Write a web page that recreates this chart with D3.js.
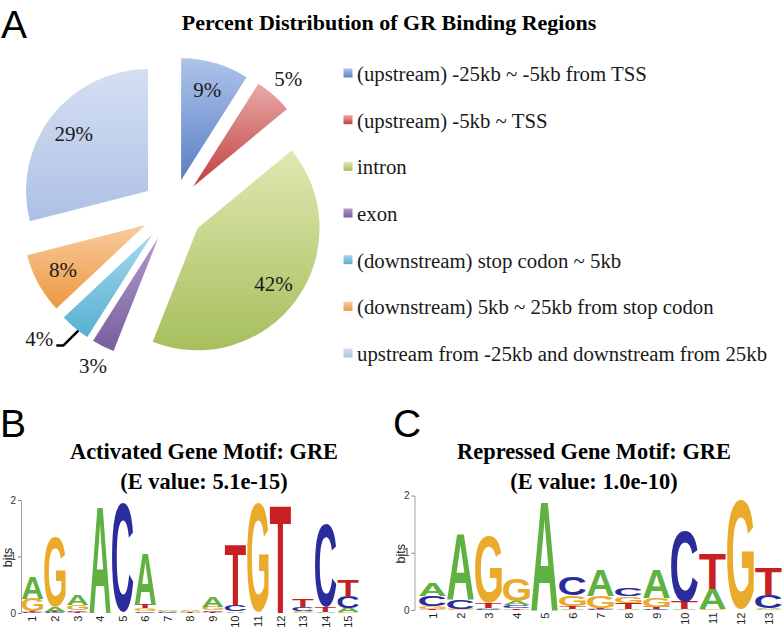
<!DOCTYPE html>
<html><head><meta charset="utf-8">
<script src="https://cdn.jsdelivr.net/npm/d3@7"></script>
<style>body{margin:0;background:#fff} svg{display:block}</style>
</head><body>
<svg id="chart" width="784" height="630"></svg>
<script>
// ---------------- DATA ----------------
const pieTitle = "Percent Distribution of GR Binding Regions";
const pieCategories = [
  "(upstream) -25kb ~ -5kb from TSS",
  "(upstream) -5kb ~ TSS",
  "intron",
  "exon",
  "(downstream) stop codon ~ 5kb",
  "(downstream) 5kb ~ 25kb from stop codon",
  "upstream from -25kb and downstream from 25kb"
];
const pieValues = [9, 5, 42, 3, 4, 8, 29];
const pieLabels = ["9%", "5%", "42%", "3%", "4%", "8%", "29%"];

const bitTicks = [0, 1, 2];
const logoLetters = ["A", "C", "G", "T"];

// Panel B: activated gene motif (bits per letter per position)
const activatedTitle = ["Activated Gene Motif: GRE", "(E value: 5.1e-15)"];
const activatedPositions = ["1","2","3","4","5","6","7","8","9","10","11","12","13","14","15"];
const activatedA = [0.40, 0.09, 0.17, 1.88, 0,    0.91, 0.015, 0.025, 0.18, 0.03, 0,    0,    0.03, 0.01, 0.08];
const activatedC = [0.01, 0.01, 0.03, 0,    1.94, 0.03, 0.012, 0.008, 0.03, 0.12, 0,    0,    0.07, 1.48, 0.20];
const activatedG = [0.22, 1.24, 0.10, 0,    0,    0.05, 0.02,  0.02,  0.06, 0,    1.93, 0,    0.01, 0,    0.01];
const activatedT = [0.02, 0.01, 0.02, 0,    0,    0.07, 0.008, 0.015, 0.02, 1.07, 0,    1.91, 0.13, 0.10, 0.29];

// Panel C: repressed gene motif
const repressedTitle = ["Repressed Gene Motif: GRE", "(E value: 1.0e-10)"];
const repressedPositions = ["1","2","3","4","5","6","7","8","9","10","11","12","13"];
const repressedA = [0.22, 1.16, 0.03, 0.07, 1.90, 0.01, 0.45, 0.01, 0.50, 0.01, 0.35, 0,    0.03];
const repressedC = [0.19, 0.16, 0.01, 0.05, 0,    0.31, 0.01, 0.13, 0.01, 1.24, 0,    0,    0.23];
const repressedG = [0.05, 0.01, 1.17, 0.39, 0,    0.19, 0.20, 0.12, 0.16, 0,    0.01, 1.92, 0.01];
const repressedT = [0.01, 0.01, 0.08, 0.03, 0,    0.05, 0.03, 0.11, 0.04, 0.13, 0.61, 0,    0.48];

// ---------------- STYLE ----------------
const sliceTop    = ["#aec4e9", "#eaa9a8", "#e0e8b2", "#ae9bcc", "#a5d9ec", "#f8cb9f", "#d5dff2"];
const sliceBottom = ["#5a7fc6", "#bd403d", "#a6bf5c", "#7a5d9f", "#56b0d2", "#ed9841", "#adc0e5"];
const letterColor = {A: "#5fb141", C: "#2b2c9c", G: "#eaaa2c", T: "#c81f22"};
const serif = '"Liberation Serif", "Times New Roman", serif';
const sans = '"Liberation Sans", Arial, sans-serif';

const svg = d3.select("#chart");
svg.append("rect").attr("width", 784).attr("height", 630).attr("fill", "#fff");
const defs = svg.append("defs");

// Panel letters
[["A", 1, 38], ["B", 0, 437], ["C", 393, 437]].forEach(([t, x, y]) => {
  svg.append("text").attr("x", x).attr("y", y).attr("font-family", sans)
    .attr("font-size", 39).attr("fill", "#000").text(t);
});

// ---------------- PIE ----------------
svg.append("text").attr("x", 389).attr("y", 30).attr("text-anchor", "middle")
  .attr("font-family", serif).attr("font-weight", "bold").attr("font-size", 22)
  .attr("fill", "#000").text(pieTitle);

pieValues.forEach((v, i) => {
  const gr = defs.append("linearGradient").attr("id", "sg" + i)
    .attr("x1", 0).attr("y1", 0).attr("x2", 0).attr("y2", 1);
  gr.append("stop").attr("offset", "0%").attr("stop-color", sliceTop[i]);
  gr.append("stop").attr("offset", "100%").attr("stop-color", sliceBottom[i]);
});

const PC = [172.5, 210], R = 122, EXPLODE = 31;
const pieArcs = d3.pie().sort(null).value(d => d)(pieValues);
const arcGen = d3.arc().innerRadius(0).outerRadius(R);
const pieG = svg.append("g").attr("transform", `translate(${PC[0]},${PC[1]})`);
const dir = a => [Math.sin(a), -Math.cos(a)];

pieArcs.forEach((d, i) => {
  const mid = (d.startAngle + d.endAngle) / 2;
  const [ux, uy] = dir(mid);
  const tx = ux * EXPLODE, ty = uy * EXPLODE;
  pieG.append("path").attr("d", arcGen(d))
    .attr("transform", `translate(${tx},${ty})`)
    .attr("fill", `url(#sg${i})`);
  const fs = 21;
  if (d.value >= 8) {
    const lr = 0.77 * R;
    pieG.append("text").attr("x", tx + ux * lr).attr("y", ty + uy * lr + fs * 0.34)
      .attr("text-anchor", "middle").attr("font-family", serif).attr("font-size", fs)
      .attr("fill", "#1a1a1a").text(pieLabels[i]);
  } else if (i === 4) {
    // label with leader line
    const [sx, sy] = dir(mid - 0.035);
    const p0 = [tx + sx * R, ty + sy * R];
    const p1 = [p0[0] - 15, p0[1] + 15];
    const p2 = [p1[0] - 7, p1[1]];
    pieG.append("path").attr("d", d3.line()([p0, p1, p2]))
      .attr("fill", "none").attr("stroke", "#000").attr("stroke-width", 2.6);
    pieG.append("text").attr("x", p2[0] - 3).attr("y", p2[1] + 0.5)
      .attr("text-anchor", "end").attr("font-family", serif).attr("font-size", fs)
      .attr("fill", "#1a1a1a").text(pieLabels[i]);
  } else {
    const lr = 1.18 * R;
    pieG.append("text").attr("x", tx + ux * lr).attr("y", ty + uy * lr + fs * 0.34)
      .attr("text-anchor", "middle").attr("font-family", serif).attr("font-size", fs)
      .attr("fill", "#1a1a1a").text(pieLabels[i]);
  }
});

// Legend
const legG = svg.append("g");
pieCategories.forEach((c, i) => {
  const y0 = 68.5 + i * 46.67;
  legG.append("rect").attr("x", 343.5).attr("y", y0).attr("width", 9).attr("height", 9)
    .attr("fill", `url(#sg${i})`);
  legG.append("text").attr("x", 357).attr("y", y0 + 12.5).attr("font-family", serif)
    .attr("font-size", 20.8).attr("fill", "#1a1a1a").text(c);
});

// ---------------- LOGOS ----------------
const LF = 100;
const mctx = document.createElement("canvas").getContext("2d");
mctx.font = `bold ${LF}px "Liberation Sans"`;
const inkCache = {};
function ink(ch) {
  if (!inkCache[ch]) {
    const m = mctx.measureText(ch);
    inkCache[ch] = {l: m.actualBoundingBoxLeft, r: m.actualBoundingBoxRight,
                    a: m.actualBoundingBoxAscent, d: m.actualBoundingBoxDescent};
  }
  return inkCache[ch];
}
function drawLetter(g, ch, x0, y0, w, h) {
  if (h <= 0) return;
  const b = ink(ch);
  const sx = w / (b.l + b.r), sy = h / (b.a + b.d);
  g.append("text")
    .attr("transform", `translate(${x0 + b.l * sx},${y0 + b.a * sy}) scale(${sx},${sy})`)
    .attr("font-family", sans).attr("font-weight", "bold").attr("font-size", LF)
    .attr("fill", letterColor[ch]).text(ch);
}

function drawLogo(cfg) {
  const g = svg.append("g");
  // titles
  cfg.title.forEach((t, k) => {
    g.append("text").attr("x", cfg.titleX).attr("y", 459 + k * 29.5).attr("text-anchor", "middle")
      .attr("font-family", serif).attr("font-weight", "bold").attr("font-size", 22.4)
      .attr("fill", "#000").text(t);
  });
  const x = d3.scaleBand().domain(cfg.positions)
    .range([cfg.x0, cfg.x0 + cfg.colW * cfg.positions.length]);
  const y = d3.scaleLinear().domain([0, 2]).range([cfg.yBase, cfg.yTop]);
  // axis
  const ax = g.append("g").attr("transform", `translate(${cfg.axisX},0)`)
    .call(d3.axisLeft(y).tickValues(bitTicks).tickSize(3).tickSizeOuter(0).tickPadding(2)
      .tickFormat(d3.format("d")));
  ax.select(".domain").attr("stroke", "#8a8a8a").attr("stroke-width", 0.8);
  ax.selectAll(".tick line").attr("stroke", "#555").attr("stroke-width", 0.8);
  ax.selectAll(".tick text").attr("font-family", sans).attr("font-size", 10).attr("fill", "#333");
  g.append("text").attr("transform", `translate(${cfg.axisX - 9.5},${(cfg.yBase + cfg.yTop) / 2 + 1}) rotate(-90)`)
    .attr("text-anchor", "middle").attr("font-family", sans).attr("font-size", 12.5)
    .attr("fill", "#222").text("bits");
  // stacks
  const pad = 0.6;
  cfg.positions.forEach((p, i) => {
    const stack = logoLetters.map((L, k) => ({L, v: cfg.heights[k][i]}))
      .filter(d => d.v > 0).sort((a, b) => a.v - b.v);
    let cum = 0;
    stack.forEach(d => {
      const yb = y(cum), yt = y(cum + d.v);
      drawLetter(g, d.L, x(p) + pad, yt, x.bandwidth() - 2 * pad, yb - yt);
      cum += d.v;
    });
    g.append("text")
      .attr("transform", `translate(${x(p) + x.bandwidth() / 2 + 4},${cfg.yBase + 2.5}) rotate(-90)`)
      .attr("text-anchor", "end").attr("font-family", sans).attr("font-size", 11)
      .attr("fill", "#222").text(p);
  });
}

drawLogo({
  title: activatedTitle, titleX: 204, positions: activatedPositions,
  heights: [activatedA, activatedC, activatedG, activatedT],
  x0: 21.2, colW: 22.55, yBase: 613, yTop: 500, axisX: 21
});
drawLogo({
  title: repressedTitle, titleX: 594, positions: repressedPositions,
  heights: [repressedA, repressedC, repressedG, repressedT],
  x0: 418.5, colW: 28.0, yBase: 610, yTop: 495.5, axisX: 414.5
});
</script>
</body></html>
